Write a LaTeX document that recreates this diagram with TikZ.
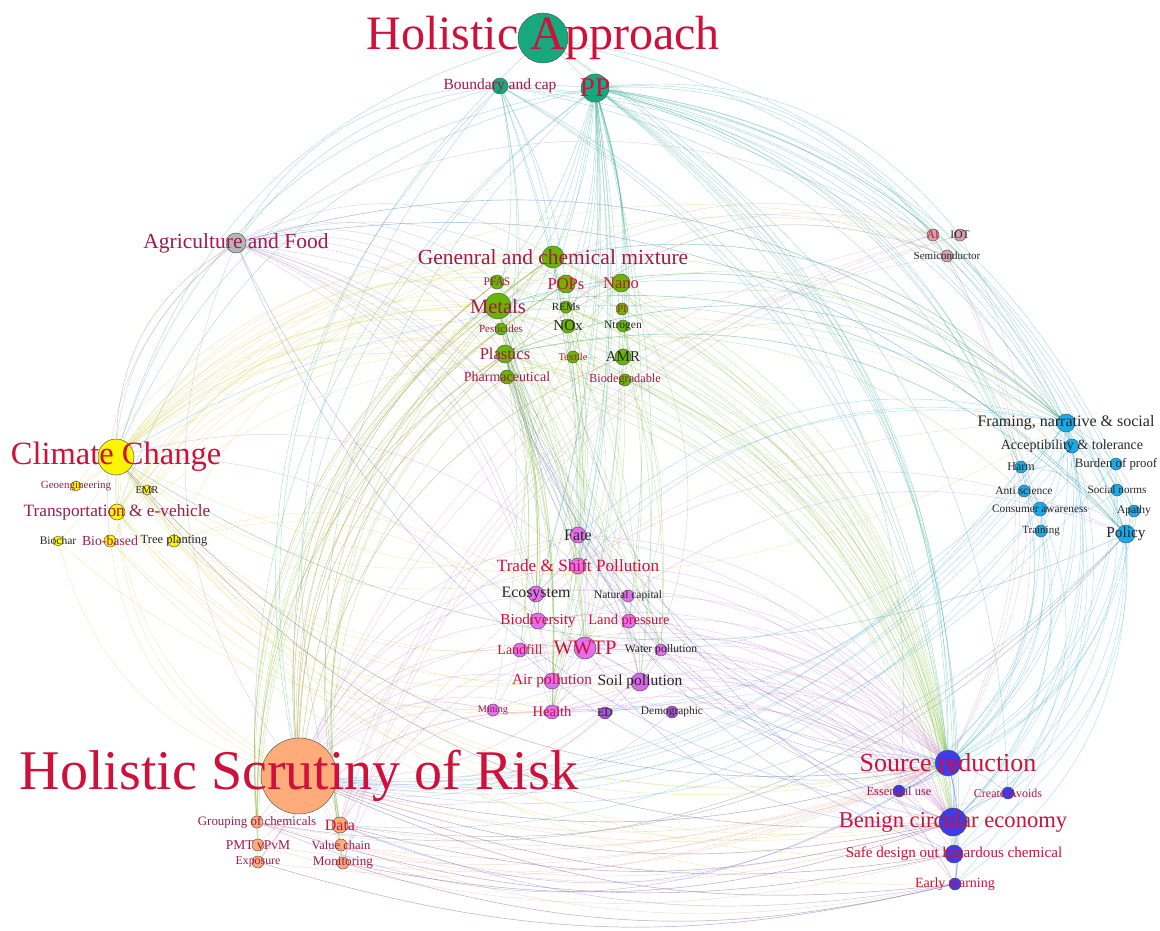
\documentclass[tikz,border=0pt]{standalone}
\usepackage{fontspec}
\setmainfont{Liberation Serif}
\usetikzlibrary{backgrounds}
\definecolor{cR}{RGB}{206,16,58}
\definecolor{cM}{RGB}{160,26,74}
\definecolor{nTeal}{RGB}{23,168,125}
\definecolor{nGreen}{RGB}{104,182,0}
\definecolor{nGray}{RGB}{182,182,182}
\definecolor{nRose}{RGB}{214,160,170}
\definecolor{nYel}{RGB}{255,245,0}
\definecolor{nCyan}{RGB}{25,170,235}
\definecolor{nMag}{RGB}{228,110,238}
\definecolor{nPur}{RGB}{170,80,220}
\definecolor{nOr}{RGB}{255,172,122}
\definecolor{nBlue}{RGB}{60,60,235}
\definecolor{eTeal}{RGB}{30,160,140}
\definecolor{eGreen}{RGB}{120,185,40}
\definecolor{eYel}{RGB}{205,205,60}
\definecolor{eGray}{RGB}{150,130,200}
\definecolor{eRose}{RGB}{200,140,170}
\definecolor{eCyan}{RGB}{40,165,215}
\definecolor{eMag}{RGB}{200,110,215}
\definecolor{eOr}{RGB}{230,150,120}
\definecolor{eBlue}{RGB}{70,80,210}
\tikzset{
  vtx/.style={circle,draw=black!65,line width=0.5pt,inner sep=0pt,minimum size=#1},
  fs/.style={font=\fontsize{#1}{#1}\selectfont},
  lr/.style={text=cR,inner sep=0pt},
  lm/.style={text=cM,inner sep=0pt},
  lk/.style={text=black!85,inner sep=0pt},
  edge/.style={line width=0.45pt,draw opacity=0.36},
  eT/.style={edge,draw=eTeal},
  eG/.style={edge,draw=eGreen},
  eY/.style={edge,draw=eYel},
  eA/.style={edge,draw=eGray},
  eR/.style={edge,draw=eRose},
  eC/.style={edge,draw=eCyan},
  eM/.style={edge,draw=eMag},
  eO/.style={edge,draw=eOr},
  eB/.style={edge,draw=eBlue},
  bl/.style={bend left=28},
  br/.style={bend right=28},
  bs/.style={bend left=10},
  lowr/.style={bend right=15},
  lowl/.style={bend left=15}
}
\newcommand\edgesfrom[4]{\foreach \t in {#4}{\draw[#1] (#2) to[#3] (\t);}}
\begin{document}
\begin{tikzpicture}[x=1pt,y=-1pt]
\useasboundingbox (0,0) rectangle (1160,931);
% ---------- top
\node[vtx=50,fill=nTeal,label={[lr,fs=48]center:Holistic Approach}] (ha) at (543,38) {};
\node[vtx=28,fill=nTeal,label={[lr,fs=27]center:PP}] (pp) at (595,88) {};
\node[vtx=16,fill=nTeal,label={[lm,fs=15.5]center:Boundary and cap}] (bnd) at (500,86) {};
\node[vtx=20,fill=nGray,label={[lm,fs=21.5]center:Agriculture and Food}] (agr) at (236,243) {};
% ---------- chemical cluster
\node[vtx=22,fill=nGreen,label={[lm,fs=21.5]center:Genenral and chemical mixture}] (gen) at (553,257) {};
\node[vtx=14,fill=nGreen,label={[lm,fs=11.5]center:PFAS}] (pfas) at (497,282) {};
\node[vtx=18,fill=nGreen,label={[lr,fs=16.5]center:POPs}] (pops) at (566,284) {};
\node[vtx=18,fill=nGreen,label={[lr,fs=16.5]center:Nano}] (nano) at (621,283) {};
\node[vtx=26,fill=nGreen,label={[lm,fs=20.5]center:Metals}] (met) at (498,306) {};
\node[vtx=12,fill=nGreen,label={[lk,fs=11]center:REMs}] (rem) at (566,307) {};
\node[vtx=12,fill=nGreen,label={[lr,fs=11]center:PI}] (pi) at (622,309) {};
\node[vtx=12,fill=nGreen,label={[lm,fs=11]center:Pesticides}] (pest) at (501,329) {};
\node[vtx=14,fill=nGreen,label={[lk,fs=15]center:NOx}] (nox) at (568,326) {};
\node[vtx=12,fill=nGreen,label={[lk,fs=11.5]center:Ntrogen}] (ntr) at (623,326) {};
\node[vtx=18,fill=nGreen,label={[lm,fs=16.5]center:Plastics}] (pla) at (505,354) {};
\node[vtx=12,fill=nGreen,label={[lr,fs=10.5]center:Textile}] (tex) at (573,357) {};
\node[vtx=16,fill=nGreen,label={[lk,fs=15]center:AMR}] (amr) at (623,357) {};
\node[vtx=14,fill=nGreen,label={[lm,fs=14]center:Pharmaceutical}] (pha) at (507,377) {};
\node[vtx=12,fill=nGreen,label={[lm,fs=12.3]center:Biodegradable}] (bio) at (625,380) {};
% ---------- tech
\node[vtx=12,fill=nRose,label={[lr,fs=11.5]center:AI}] (ai) at (933,235) {};
\node[vtx=12,fill=nRose,label={[lk,fs=11.5]center:IOT}] (iot) at (960,235) {};
\node[vtx=12,fill=nRose,label={[lk,fs=11]center:Semiconductor}] (semi) at (947,256) {};
% ---------- climate
\node[vtx=36,fill=nYel,label={[lr,fs=32.5]center:Climate Change}] (cc) at (116,457) {};
\node[vtx=10,fill=nYel,label={[lm,fs=11]center:Geoengineering}] (geo) at (76,486) {};
\node[vtx=10,fill=nYel,label={[lk,fs=10.5]center:EMR}] (emr) at (147,490) {};
\node[vtx=16,fill=nYel,label={[lm,fs=17.3]center:Transportation \& e-vehicle}] (trn) at (117,512) {};
\node[vtx=10,fill=nYel,label={[lk,fs=11.5]center:Biochar}] (bch) at (58,541) {};
\node[vtx=12,fill=nYel,label={[lm,fs=13.8]center:Bio-based}] (bb) at (110,541) {};
\node[vtx=12,fill=nYel,label={[lk,fs=12.5]center:Tree planting}] (tree) at (174,541) {};
% ---------- social
\node[vtx=18,fill=nCyan,label={[lk,fs=16]center:{Framing, narrative \& social}}] (frm) at (1066,423) {};
\node[vtx=14,fill=nCyan,label={[lk,fs=14]center:Acceptibility \& tolerance}] (acc) at (1072,446) {};
\node[vtx=12,fill=nCyan,label={[lk,fs=12]center:Harm}] (harm) at (1021,467) {};
\node[vtx=12,fill=nCyan,label={[lk,fs=12.8]center:Burden of proof}] (bur) at (1116,464) {};
\node[vtx=12,fill=nCyan,label={[lk,fs=11.5]center:Anti science}] (anti) at (1024,491) {};
\node[vtx=12,fill=nCyan,label={[lk,fs=11.2]center:Social norms}] (soc) at (1117,490) {};
\node[vtx=14,fill=nCyan,label={[lk,fs=11.3]center:Consumer awareness}] (con) at (1040,509) {};
\node[vtx=12,fill=nCyan,label={[lk,fs=11.5]center:Apathy}] (apa) at (1134,511) {};
\node[vtx=12,fill=nCyan,label={[lk,fs=11]center:Training}] (trg) at (1041,531) {};
\node[vtx=18,fill=nCyan,label={[lk,fs=15.3]center:Policy}] (pol) at (1126,534) {};
% ---------- impacts
\node[vtx=16,fill=nMag,label={[lk,fs=16]center:Fate}] (fate) at (578,535) {};
\node[vtx=16,fill=nMag,label={[lr,fs=17.2]center:Trade \& Shift Pollution}] (trade) at (578,566) {};
\node[vtx=16,fill=nMag,label={[lk,fs=15.9]center:Ecosystem}] (eco) at (536,594) {};
\node[vtx=12,fill=nMag,label={[lk,fs=11.5]center:Natural capital}] (nat) at (628,596) {};
\node[vtx=16,fill=nMag,label={[lr,fs=15.2]center:Biodiversity}] (bdv) at (538,621) {};
\node[vtx=14,fill=nMag,label={[lr,fs=14.4]center:Land pressure}] (land) at (629,621) {};
\node[vtx=14,fill=nMag,label={[lr,fs=14]center:Landfill}] (lfl) at (520,650) {};
\node[vtx=22,fill=nMag,label={[lr,fs=20.6]center:WWTP}] (wwtp) at (585,648) {};
\node[vtx=12,fill=nMag,label={[lk,fs=11.6]center:Water pollution}] (wat) at (661,650) {};
\node[vtx=16,fill=nMag,label={[lr,fs=15.4]center:Air pollution}] (air) at (552,681) {};
\node[vtx=18,fill=nMag!80!nPur,label={[lk,fs=15.5]center:Soil pollution}] (soil) at (640,682) {};
\node[vtx=12,fill=nMag,label={[lm,fs=10.2]center:Mining}] (min) at (493,710) {};
\node[vtx=14,fill=nMag,label={[lr,fs=14.6]center:Health}] (hlt) at (552,712) {};
\node[vtx=12,fill=nPur,label={[lk,fs=12]center:ED}] (ed) at (605,713) {};
\node[vtx=12,fill=nPur,label={[lk,fs=11.4]center:Demographic}] (dem) at (672,712) {};
% ---------- risk
\node[vtx=76,fill=nOr,label={[lr,fs=56]center:Holistic Scrutiny of Risk}] (hs) at (299,776) {};
\node[vtx=12,fill=nOr,label={[lm,fs=12.9]center:Grouping of chemicals}] (grp) at (257,822) {};
\node[vtx=16,fill=nOr,label={[lr,fs=15.9]center:Data}] (data) at (340,825) {};
\node[vtx=12,fill=nOr,label={[lm,fs=13.5]center:PMT vPvM}] (pmt) at (258,845) {};
\node[vtx=12,fill=nOr,label={[lm,fs=12.5]center:Value chain}] (val) at (341,845) {};
\node[vtx=12,fill=nOr,label={[lm,fs=11.9]center:Exposure}] (exp) at (258,862) {};
\node[vtx=12,fill=nOr,label={[lm,fs=13.2]center:Monitoring}] (mon) at (343,863) {};
% ---------- circular
\node[vtx=26,fill=nBlue,label={[lr,fs=26]center:Source reduction}] (sr) at (948,763) {};
\node[vtx=12,fill=nBlue,label={[lm,fs=12.5]center:Essential use}] (ess) at (899,791) {};
\node[vtx=12,fill=nBlue,label={[lm,fs=12]center:Create Avoids}] (cre) at (1008,793) {};
\node[vtx=28,fill=nBlue,label={[lr,fs=22.6]center:Benign circular economy}] (bce) at (953,822) {};
\node[vtx=18,fill=nBlue,label={[lr,fs=15.1]center:Safe design out hazardous chemical}] (safe) at (954,854) {};
\node[vtx=12,fill=nBlue,label={[lr,fs=14]center:Early warning}] (ew) at (955,884) {};
% ================= connectors
\begin{pgfonlayer}{background}
% teal
\edgesfrom{eT}{pp}{bl}{frm,acc,harm,bur,anti,soc,con,apa,trg,pol,sr,ess,cre,bce,safe,ew,ai,iot,semi}
\edgesfrom{eT}{pp}{bs}{gen,pfas,pops,nano,met,rem,pi,pest,nox,ntr,pla,tex,amr,pha,bio,fate,trade,eco,wwtp,soil,bdv,air,hlt,lfl,land}
\edgesfrom{eT}{pp}{br}{cc,hs,trn,data,grp,agr}
\edgesfrom{eT}{bnd}{bl}{frm,pol,sr,bce,con,safe,acc}
\edgesfrom{eT}{bnd}{bs}{met,pla,pha,gen,wwtp,fate,pops}
\edgesfrom{eT}{bnd}{br}{cc,hs,data,agr}
\draw[eT] (ha) -- (pp);
\edgesfrom{eT}{ha}{bl}{sr,bce,frm,pol}
\edgesfrom{eT}{ha}{br}{hs,cc}
% agriculture
\edgesfrom{eA}{agr}{bl}{frm,ai,pest,met,pfas,ntr,pla,gen,pha,fate,trade,soil,bdv,land,eco,hlt,wwtp,sr,pol}
\edgesfrom{eA}{agr}{br}{hs,cc,trn,bb}
% climate
\edgesfrom{eY}{cc}{bl}{gen,pfas,pops,nano,met,pest,pla,pha,amr,tex,bio,ntr,nox,ai,agr}
\edgesfrom{eY}{cc}{bs}{geo,emr,trn,bch,bb,tree}
\edgesfrom{eY}{cc}{br}{hs,sr,bce,ew,safe,wwtp,air,hlt,soil,trade,fate,frm,pol}
\edgesfrom{eY}{trn}{bl}{met,pla,gen,pops}
\edgesfrom{eY}{trn}{br}{air,hlt,sr,bce,hs}
\edgesfrom{eY}{bb}{bl}{pla,bio,gen}
\edgesfrom{eY}{bb}{br}{hs,sr,bce}
\edgesfrom{eY}{tree}{bl}{eco,bdv,gen}
\edgesfrom{eY}{tree}{br}{land,sr}
\edgesfrom{eY}{geo}{bl}{gen,frm}
\edgesfrom{eY}{bch}{br}{soil,hs}
\edgesfrom{eY}{emr}{bl}{met,ai}
% chemicals
\edgesfrom{eG}{met}{bs}{wwtp,soil,hlt,lfl,min,wat,air,fate,eco}
\edgesfrom{eG}{met}{br}{hs,data,grp}
\edgesfrom{eG}{met}{bl}{sr,bce,pol,frm}
\edgesfrom{eG}{pla}{bs}{wwtp,lfl,eco,bdv,hlt,trade,fate,air}
\edgesfrom{eG}{pla}{br}{hs,data,grp,val}
\edgesfrom{eG}{pla}{bl}{sr,bce,safe,pol,frm,con}
\edgesfrom{eG}{pha}{bs}{wwtp,wat,amr,hlt,fate,eco}
\edgesfrom{eG}{pha}{br}{hs,mon}
\edgesfrom{eG}{pha}{bl}{sr,bce}
\edgesfrom{eG}{gen}{br}{hs,grp,exp,data,mon,pmt}
\edgesfrom{eG}{gen}{bl}{sr,bce,safe,frm,pol}
\edgesfrom{eG}{gen}{bs}{fate,trade,hlt}
\edgesfrom{eG}{pfas}{br}{pmt,grp,hs}
\edgesfrom{eG}{pfas}{bs}{wwtp,wat}
\edgesfrom{eG}{pfas}{bl}{sr,safe}
\edgesfrom{eG}{pops}{bs}{fate,trade,soil}
\edgesfrom{eG}{pops}{br}{hs,grp,pmt}
\edgesfrom{eG}{pops}{bl}{sr}
\edgesfrom{eG}{nano}{br}{hs,hlt,eco}
\edgesfrom{eG}{nano}{bl}{sr,frm,soil}
\edgesfrom{eG}{pest}{bs}{bdv,soil,hlt,eco}
\edgesfrom{eG}{pest}{br}{hs}
\edgesfrom{eG}{pest}{bl}{sr}
\edgesfrom{eG}{ntr}{bs}{soil,wat,land,air}
\edgesfrom{eG}{ntr}{bl}{sr}
\edgesfrom{eG}{nox}{bs}{air,hlt}
\edgesfrom{eG}{nox}{bl}{sr}
\edgesfrom{eG}{amr}{bs}{hlt,wwtp,wat}
\edgesfrom{eG}{amr}{br}{hs}
\edgesfrom{eG}{amr}{bl}{sr,frm}
\edgesfrom{eG}{tex}{bl}{wwtp,sr,bce,trade}
\edgesfrom{eG}{bio}{bl}{bce,sr,land}
\edgesfrom{eG}{rem}{bl}{sr,bce,semi}
\edgesfrom{eG}{pi}{bl}{sr,frm}
% tech
\edgesfrom{eR}{ai}{br}{met,data,mon,rem,hs}
\edgesfrom{eR}{ai}{bl}{sr}
\edgesfrom{eR}{iot}{br}{mon,data}
\edgesfrom{eR}{iot}{bl}{sr}
\edgesfrom{eR}{semi}{br}{rem,met,hs}
\edgesfrom{eR}{semi}{bl}{bce,sr}
% social
\edgesfrom{eC}{frm}{bs}{acc,harm,bur,anti,soc,con,apa,trg,pol}
\edgesfrom{eC}{frm}{bl}{sr,bce,safe,ew,ess,cre,hs,hlt,wwtp}
\edgesfrom{eC}{frm}{br}{cc,agr,met,pla,gen,fate,trade,eco}
\edgesfrom{eC}{acc}{bl}{sr,bce,pol,hs,con,harm}
\edgesfrom{eC}{acc}{br}{met}
\edgesfrom{eC}{harm}{bl}{sr,hlt,hs,pol}
\edgesfrom{eC}{bur}{bl}{sr,pol,hs}
\edgesfrom{eC}{anti}{bl}{sr,trg,con,hs}
\edgesfrom{eC}{soc}{bl}{sr,bce,pol,con}
\edgesfrom{eC}{con}{bl}{sr,bce,ess,cre,pol,hs,data}
\edgesfrom{eC}{apa}{bl}{pol,sr}
\edgesfrom{eC}{trg}{bl}{sr,bce,hs}
\edgesfrom{eC}{pol}{bl}{sr,bce,safe,ew,ess,cre,hs,data,grp,cc}
\edgesfrom{eC}{pol}{br}{met,pla,agr}
% impacts
\edgesfrom{eM}{fate}{bs}{trade,eco,wwtp,soil,wat}
\edgesfrom{eM}{fate}{br}{hs,data}
\edgesfrom{eM}{fate}{bl}{sr,bce}
\edgesfrom{eM}{trade}{bl}{sr,bce,pol,eco,land,air}
\edgesfrom{eM}{trade}{br}{hs,cc}
\edgesfrom{eM}{eco}{bs}{bdv,nat,land}
\edgesfrom{eM}{eco}{br}{hs}
\edgesfrom{eM}{eco}{bl}{sr}
\edgesfrom{eM}{nat}{bs}{land,bdv}
\edgesfrom{eM}{nat}{bl}{sr,pol}
\edgesfrom{eM}{bdv}{bs}{land,hlt}
\edgesfrom{eM}{bdv}{br}{hs}
\edgesfrom{eM}{bdv}{bl}{sr,bce}
\edgesfrom{eM}{land}{bs}{soil}
\edgesfrom{eM}{land}{bl}{sr,bce,hs}
\edgesfrom{eM}{lfl}{bs}{wwtp,soil,min}
\edgesfrom{eM}{lfl}{br}{hs}
\edgesfrom{eM}{lfl}{bl}{sr,bce}
\edgesfrom{eM}{wwtp}{bs}{wat,soil,air,hlt}
\edgesfrom{eM}{wwtp}{br}{hs,data,mon}
\edgesfrom{eM}{wwtp}{bl}{sr,bce,safe,ew}
\edgesfrom{eM}{wat}{bs}{soil}
\edgesfrom{eM}{wat}{bl}{sr,bce,hs}
\edgesfrom{eM}{air}{bs}{hlt}
\edgesfrom{eM}{air}{br}{hs,cc}
\edgesfrom{eM}{air}{bl}{sr,bce}
\edgesfrom{eM}{soil}{bs}{hlt}
\edgesfrom{eM}{soil}{bl}{sr,bce,ew,hs}
\edgesfrom{eM}{min}{br}{hs,grp}
\edgesfrom{eM}{min}{bs}{soil}
\edgesfrom{eM}{hlt}{bs}{ed,dem}
\edgesfrom{eM}{hlt}{br}{hs,data,exp}
\edgesfrom{eM}{hlt}{bl}{sr,bce,ew}
\edgesfrom{eM}{ed}{bl}{hs,sr,bce,dem}
\edgesfrom{eM}{dem}{bl}{sr,bce,hs}
% risk
\edgesfrom{eO}{hs}{bs}{grp,data,pmt,val,exp,mon}
\edgesfrom{eO}{hs}{lowr}{sr,bce,safe,ew,ess,cre}
\edgesfrom{eO}{hs}{bl}{met,pla,pha,pfas,gen,pops,amr,nano}
\edgesfrom{eO}{data}{lowr}{sr,bce}
\edgesfrom{eO}{data}{br}{pol}
\edgesfrom{eO}{data}{bs}{mon,val}
\edgesfrom{eO}{data}{bl}{frm,met}
\edgesfrom{eO}{grp}{lowr}{sr,bce,safe}
\edgesfrom{eO}{grp}{br}{pol}
\edgesfrom{eO}{grp}{bl}{pfas,pla}
\edgesfrom{eO}{pmt}{lowr}{sr,safe}
\edgesfrom{eO}{val}{lowr}{sr,bce,ew}
\edgesfrom{eO}{exp}{lowr}{sr,ew}
\edgesfrom{eO}{exp}{bl}{hlt}
\edgesfrom{eO}{mon}{lowr}{sr,bce,ew}
% circular
\edgesfrom{eB}{sr}{bs}{bce,ess,cre,safe,ew}
\edgesfrom{eB}{bce}{bs}{safe,ew,ess,cre}
\draw[eB] (safe) to[bs] (ew);
\edgesfrom{eB}{sr}{bl}{cc,agr,met,pla,pha,fate,trade,lfl,data,grp}
\edgesfrom{eB}{sr}{lowl}{hs}
\edgesfrom{eB}{bce}{bl}{cc,agr,pla,met,wwtp}
\edgesfrom{eB}{bce}{lowl}{hs,data,mon}
\edgesfrom{eB}{safe}{bl}{pla,gen}
\edgesfrom{eB}{safe}{lowl}{hs,grp}
\edgesfrom{eB}{ew}{lowl}{hs,mon,exp,data}
\end{pgfonlayer}
\end{tikzpicture}
\end{document}
